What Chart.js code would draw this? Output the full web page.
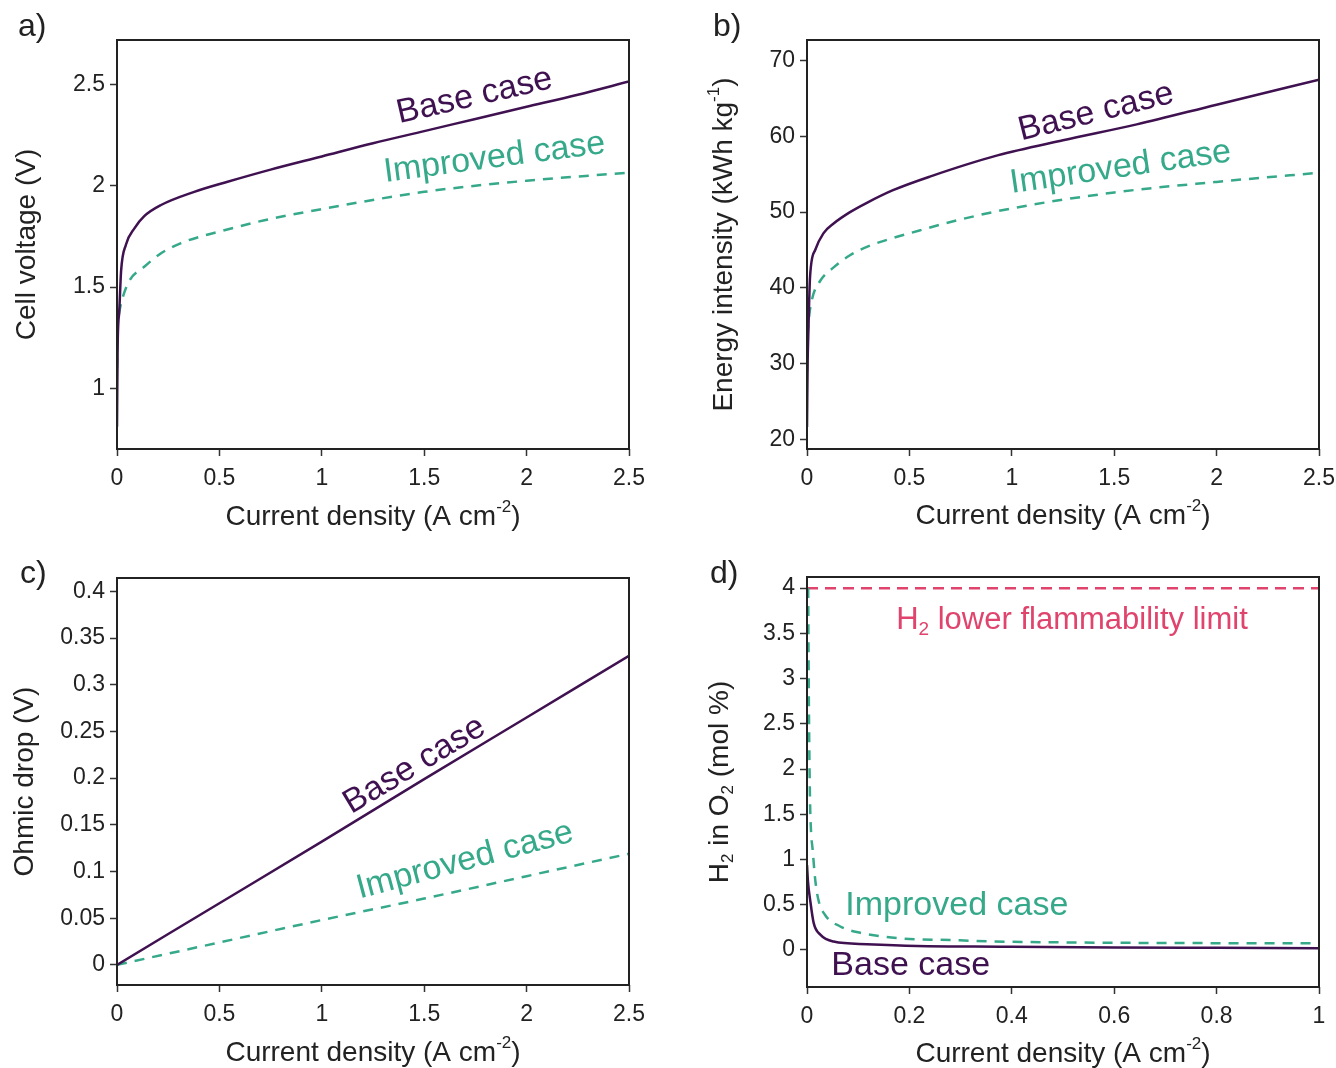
<!DOCTYPE html>
<html>
<head>
<meta charset="utf-8">
<script src="https://cdn.jsdelivr.net/npm/chart.js@4.4.1/dist/chart.umd.min.js"></script>
<style>
body { margin: 0; background: #fff; }
#wrap { position: relative; width: 1336px; height: 1068px; }
canvas { position: absolute; }
</style>
</head>
<body>
<div id="wrap">
    <canvas id="cellVoltage" width="668" height="534" style="left:0;top:0"></canvas>
    <canvas id="energy" width="668" height="534" style="left:668px;top:0"></canvas>
    <canvas id="ohmic" width="668" height="534" style="left:0;top:534px"></canvas>
    <canvas id="h2" width="668" height="534" style="left:668px;top:534px"></canvas>
</div>
<script>
// a) Cell voltage vs current density
const jBaseA = [0, 0.003, 0.011, 0.02, 0.044, 0.085, 0.133, 0.215, 0.377, 0.54, 0.75, 1.0, 1.25, 1.5, 1.75, 2.0, 2.25, 2.5]
const vBaseA = [0.81, 1.2, 1.38, 1.58, 1.71, 1.79, 1.85, 1.905, 1.97, 2.02, 2.08, 2.145, 2.21, 2.27, 2.33, 2.39, 2.45, 2.515]
const jImpA = [0, 0.003, 0.01, 0.02, 0.06, 0.133, 0.215, 0.31, 0.41, 0.51, 0.72, 1.0, 1.5, 2.0, 2.5]
const vImpA = [1.1, 1.3, 1.37, 1.42, 1.53, 1.6, 1.667, 1.716, 1.75, 1.777, 1.83, 1.885, 1.97, 2.025, 2.065]
const xTicksA = [0, 0.5, 1, 1.5, 2, 2.5]
const yTicksA = [1, 1.5, 2, 2.5]

// b) Energy intensity
const jBaseB = [0, 0.003, 0.006, 0.015, 0.04, 0.08, 0.13, 0.21, 0.29, 0.42, 0.6, 0.93, 1.25, 1.61, 2.0, 2.5]
const eBaseB = [21.6, 30, 33.5, 41.5, 45.0, 47.2, 48.5, 50.0, 51.2, 52.9, 54.7, 57.5, 59.5, 61.6, 64.2, 67.5]
const jImpB = [0, 0.002, 0.008, 0.023, 0.064, 0.13, 0.21, 0.31, 0.41, 0.5, 0.73, 1.0, 1.5, 2.0, 2.5]
const eImpB = [29, 32.6, 35.5, 38.3, 40.9, 42.7, 44.3, 45.6, 46.5, 47.2, 48.9, 50.5, 52.6, 54.0, 55.2]
const xTicksB = [0, 0.5, 1, 1.5, 2, 2.5]
const yTicksB = [20, 30, 40, 50, 60, 70]

// c) Ohmic drop
const jC = [0, 0.5, 1, 1.5, 2, 2.5]
const dropBaseC = [0, 0.066, 0.132, 0.199, 0.265, 0.331]
const dropImpC = [0, 0.024, 0.048, 0.071, 0.095, 0.119]
const xTicksC = [0, 0.5, 1, 1.5, 2, 2.5]
const yTicksC = [0, 0.05, 0.1, 0.15, 0.2, 0.25, 0.3, 0.35, 0.4]

// d) H2 in O2
const jBaseD = [0, 0.002, 0.006, 0.013, 0.026, 0.052, 0.117, 0.215, 0.378, 0.6, 0.8, 1.0]
const h2BaseD = [0.94, 0.75, 0.56, 0.3, 0.17, 0.093, 0.064, 0.045, 0.037, 0.028, 0.024, 0.02]
const jImpD = [0.0023, 0.003, 0.004, 0.006, 0.008, 0.011, 0.016, 0.022, 0.035, 0.065, 0.104, 0.18, 0.28, 0.364, 0.6, 1.0]
const h2ImpD = [4.0, 3.3, 2.5, 1.63, 1.3, 1.11, 0.78, 0.56, 0.39, 0.26, 0.19, 0.13, 0.11, 0.095, 0.08, 0.074]
const jLimitD = [0, 1]
const h2LimitD = [4, 4]
const xTicksD = [0, 0.2, 0.4, 0.6, 0.8, 1]
const yTicksD = [0, 0.5, 1, 1.5, 2, 2.5, 3, 3.5, 4]

const PURPLE = '#3f1150'
const GREEN = '#35a98a'
const RED = '#e0436c'
const INK = '#222'
const FONT = '"Liberation Sans", Arial, sans-serif'

const xy = (xs, ys) => xs.map((x, i) => ({ x: x, y: ys[i] }))

// text with sub/superscript parts, centred on (x, y)
function drawRich(ctx, parts, x, y, size, angle, color) {
    const small = Math.round(size * 0.62)
    let total = 0
    const widths = parts.map(p => {
        ctx.font = (p[1] ? small : size) + 'px ' + FONT
        const w = ctx.measureText(p[0]).width
        total += w
        return w
    })
    ctx.save()
    ctx.translate(x, y)
    ctx.rotate(angle * Math.PI / 180)
    ctx.fillStyle = color
    ctx.textBaseline = 'middle'
    ctx.textAlign = 'left'
    let cx = -total / 2
    parts.forEach((p, i) => {
        let dy = 0
        if (p[1] === 'sup') dy = -size * 0.36
        if (p[1] === 'sub') dy = size * 0.3
        ctx.font = (p[1] ? small : size) + 'px ' + FONT
        ctx.fillText(p[0], cx, dy)
        cx += widths[i]
    })
    ctx.restore()
}

const decor = {
    id: 'decor',
    afterDatasetsDraw(chart, args, opts) {
        const ctx = chart.ctx
        const a = chart.chartArea
        ctx.save()
        ctx.strokeStyle = INK
        ctx.lineWidth = 2
        ctx.strokeRect(a.left, a.top, a.right - a.left, a.bottom - a.top)
        opts.notes.forEach(n => {
            const px = chart.scales.x.getPixelForValue(n.x)
            const py = chart.scales.y.getPixelForValue(n.y)
            drawRich(ctx, n.parts, px, py, n.size, n.angle, n.color)
        })
        drawRich(ctx, opts.xTitle, (a.left + a.right) / 2, a.bottom + opts.xGap, 28, 0, INK)
        drawRich(ctx, opts.yTitle, a.left - opts.yGap, (a.top + a.bottom) / 2, 28, -90, INK)
        ctx.font = '32px ' + FONT
        ctx.fillStyle = INK
        ctx.textAlign = 'left'
        ctx.textBaseline = 'alphabetic'
        ctx.fillText(opts.letter, opts.letterX, opts.letterY)
        ctx.restore()
    }
}

function axis(min, max, tickList, fitSize, isX) {
    return {
        type: 'linear',
        min: min,
        max: max,
        afterBuildTicks: s => { s.ticks = tickList.map(v => ({ value: v })) },
        afterFit: s => {
            // fixed axis size, and no extra room for overhanging end labels
            if (isX) s.height = fitSize; else s.width = fitSize
            s.paddingLeft = 0
            s.paddingRight = 0
            s.paddingTop = 0
            s.paddingBottom = 0
        },
        grid: { display: true, drawOnChartArea: false, drawTicks: true, tickLength: 7, tickColor: '#333', tickWidth: 1.5 },
        border: { display: false },
        ticks: {
            font: { family: FONT, size: 23 },
            color: INK,
            padding: isX ? 9 : 5,
            maxRotation: 0,
            autoSkip: false,
            callback: v => String(v)
        }
    }
}

function makePanel(id, datasets, scales, padding, decorOpts) {
    new Chart(document.getElementById(id), {
        type: 'line',
        data: { datasets: datasets },
        options: {
            responsive: false,
            animation: false,
            layout: { padding: padding },
            scales: scales,
            plugins: {
                legend: { display: false },
                tooltip: { enabled: false },
                decor: decorOpts
            }
        },
        plugins: [decor]
    })
}

const solid = (pts, color) => ({ data: pts, borderColor: color, borderWidth: 2.5, pointRadius: 0, fill: false, cubicInterpolationMode: 'monotone' })
const dashed = (pts, color, dash) => ({ data: pts, borderColor: color, borderWidth: 2.5, borderDash: dash, pointRadius: 0, fill: false, cubicInterpolationMode: 'monotone' })

const xTitle = [['Current density (A cm'], ['-2', 'sup'], [')']]

// a)
makePanel('cellVoltage',
    [solid(xy(jBaseA, vBaseA), PURPLE), dashed(xy(jImpA, vImpA), GREEN, [10, 8])],
    { x: axis(0, 2.5, xTicksA, 85, true), y: axis(0.7, 2.72, yTicksA, 117, false) },
    { top: 40, right: 39, left: 0, bottom: 0 },
    {
        letter: 'a)', letterX: 18, letterY: 36,
        xTitle: xTitle, xGap: 68,
        yTitle: [['Cell voltage (V)']], yGap: 90,
        notes: [
            { parts: [['Base case']], x: 1.746, y: 2.442, size: 34, angle: -13, color: PURPLE },
            { parts: [['Improved case']], x: 1.843, y: 2.137, size: 34, angle: -7.5, color: GREEN }
        ]
    })

// b)
makePanel('energy',
    [solid(xy(jBaseB, eBaseB), PURPLE), dashed(xy(jImpB, eImpB), GREEN, [10, 8])],
    { x: axis(0, 2.5, xTicksB, 85, true), y: axis(18.7, 72.75, yTicksB, 139, false) },
    { top: 40, right: 17, left: 0, bottom: 0 },
    {
        letter: 'b)', letterX: 45, letterY: 36,
        xTitle: xTitle, xGap: 67,
        yTitle: [['Energy intensity (kWh kg'], ['-1', 'sup'], [')']], yGap: 83,
        notes: [
            { parts: [['Base case']], x: 1.411, y: 63.2, size: 34, angle: -14, color: PURPLE },
            { parts: [['Improved case']], x: 1.531, y: 55.87, size: 34, angle: -8.3, color: GREEN }
        ]
    })

// c)
makePanel('ohmic',
    [solid(xy(jC, dropBaseC), PURPLE), dashed(xy(jC, dropImpC), GREEN, [10, 8])],
    { x: axis(0, 2.5, xTicksC, 83, true), y: axis(-0.0216, 0.4144, yTicksC, 117, false) },
    { top: 44, right: 39, left: 0, bottom: 0 },
    {
        letter: 'c)', letterX: 20, letterY: 49,
        xTitle: xTitle, xGap: 68,
        yTitle: [['Ohmic drop (V)']], yGap: 92,
        notes: [
            { parts: [['Base case']], x: 1.453, y: 0.2138, size: 34, angle: -31, color: PURPLE },
            { parts: [['Improved case']], x: 1.699, y: 0.1116, size: 34, angle: -15, color: GREEN }
        ]
    })

// d)
makePanel('h2',
    [
        solid(xy(jBaseD, h2BaseD), PURPLE),
        dashed(xy(jImpD, h2ImpD), GREEN, [10, 8]),
        dashed(xy(jLimitD, h2LimitD), RED, [11, 7])
    ],
    { x: axis(0, 1, xTicksD, 81, true), y: axis(-0.409, 4.123, yTicksD, 139, false) },
    { top: 43, right: 17, left: 0, bottom: 0 },
    {
        letter: 'd)', letterX: 42, letterY: 49,
        xTitle: xTitle, xGap: 67,
        yTitle: [['H'], ['2', 'sub'], [' in O'], ['2', 'sub'], [' (mol %)']], yGap: 87,
        notes: [
            { parts: [['H'], ['2', 'sub'], [' lower flammability limit']], x: 0.5175, y: 3.64, size: 31, angle: 0, color: RED },
            { parts: [['Improved case']], x: 0.2926, y: 0.495, size: 34, angle: 0, color: GREEN },
            { parts: [['Base case']], x: 0.2025, y: -0.177, size: 34, angle: 0, color: PURPLE }
        ]
    })
</script>
</body>
</html>
